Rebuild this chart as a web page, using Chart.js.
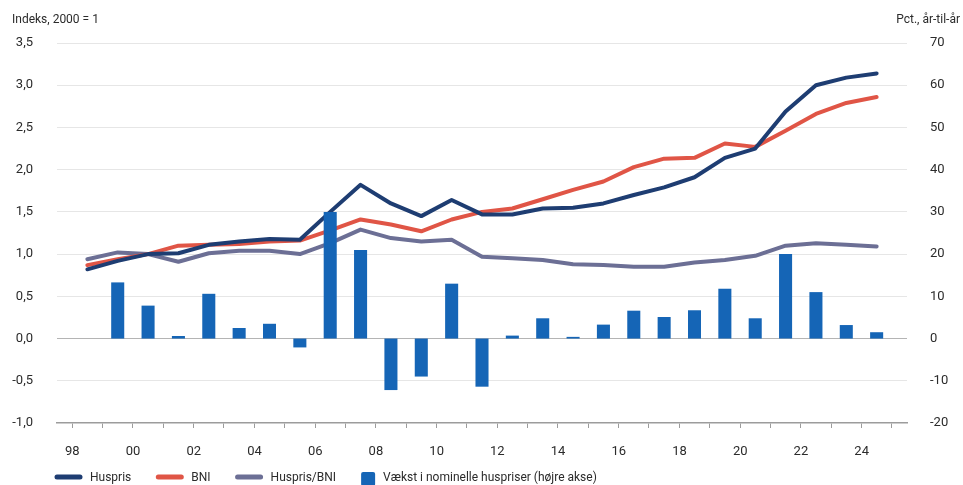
<!DOCTYPE html>
<html>
<head>
<meta charset="utf-8">
<script src="https://cdn.jsdelivr.net/npm/chart.js@4"></script>
<style>
  html, body { margin: 0; padding: 0; background: #fff; }
</style>
</head>
<body>
<canvas id="chart" width="963" height="485"></canvas>
<script>
// data (index 2000 = 1, growth in pct)
const years = [1998, 1999, 2000, 2001, 2002, 2003, 2004, 2005, 2006, 2007, 2008, 2009, 2010, 2011,
               2012, 2013, 2014, 2015, 2016, 2017, 2018, 2019, 2020, 2021, 2022, 2023, 2024];
const huspris = [0.82, 0.92, 1.00, 1.01, 1.11, 1.15, 1.18, 1.17, 1.50, 1.82, 1.60, 1.45, 1.64, 1.47,
                 1.47, 1.54, 1.55, 1.60, 1.70, 1.79, 1.91, 2.14, 2.25, 2.69, 3.00, 3.09, 3.14];
const bni = [0.87, 0.94, 1.00, 1.10, 1.11, 1.12, 1.15, 1.16, 1.28, 1.41, 1.35, 1.27, 1.41, 1.50,
             1.54, 1.65, 1.76, 1.86, 2.03, 2.13, 2.14, 2.31, 2.27, 2.46, 2.66, 2.79, 2.86];
const husprisBni = [0.94, 1.02, 1.00, 0.91, 1.01, 1.04, 1.04, 1.00, 1.13, 1.29, 1.19, 1.15, 1.17, 0.97,
                    0.95, 0.93, 0.88, 0.87, 0.85, 0.85, 0.90, 0.93, 0.98, 1.10, 1.13, 1.11, 1.09];
const vaekst = [null, 13.3, 7.8, 0.6, 10.6, 2.5, 3.5, -2.1, 30.0, 21.0, -12.2, -9.0, 13.0, -11.4,
                0.7, 4.8, 0.4, 3.3, 6.6, 5.1, 6.7, 11.8, 4.8, 20.0, 11.0, 3.2, 1.5];
const leftTicks = [-1, -0.5, 0, 0.5, 1, 1.5, 2, 2.5, 3, 3.5];
const rightTicks = [-20, -10, 0, 10, 20, 30, 40, 50, 60, 70];

// one empty slot each side so the year labels sit between the tick marks
const axisYears = [years[0] - 1, ...years, years[years.length - 1] + 1];
const pad = arr => [null, ...arr, null];

const FONT = 'Roboto, "Liberation Sans", sans-serif';
const TEXT = '#2b2b2b';

// axis titles at the top
const titlePlugin = {
    id: 'titles',
    afterDraw(chart) {
        const ctx = chart.ctx;
        ctx.save();
        ctx.font = '12px ' + FONT;
        ctx.fillStyle = TEXT;
        ctx.textBaseline = 'middle';
        ctx.textAlign = 'left';
        ctx.fillText('Indeks, 2000 = 1', 12, 20);
        ctx.textAlign = 'right';
        ctx.fillText('Pct., år-til-år', 960, 20);
        ctx.restore();
    }
};

// legend row at the bottom (lines as strokes, bars as square)
const legendPlugin = {
    id: 'bottomLegend',
    afterDraw(chart) {
        const ctx = chart.ctx;
        let x = 55;
        const y = 478;
        ctx.save();
        ctx.font = '12px ' + FONT;
        ctx.textBaseline = 'middle';
        ctx.textAlign = 'left';
        chart.data.datasets.forEach(ds => {
            if (ds.type === 'line') {
                ctx.strokeStyle = ds.borderColor;
                ctx.lineWidth = 5;
                ctx.lineCap = 'round';
                ctx.beginPath();
                ctx.moveTo(x + 2, y - 1);
                ctx.lineTo(x + 25, y - 1);
                ctx.stroke();
                x += 35;
            } else {
                ctx.fillStyle = ds.backgroundColor;
                ctx.beginPath();
                ctx.roundRect(x, y - 6, 14, 14, 2);
                ctx.fill();
                x += 22;
            }
            ctx.fillStyle = TEXT;
            ctx.fillText(ds.label, x, y);
            x += ctx.measureText(ds.label).width + 25;
        });
        ctx.restore();
    }
};

new Chart(document.getElementById('chart'), {
    type: 'bar',
    data: {
        labels: axisYears,
        datasets: [
            {
                type: 'line',
                label: 'Huspris',
                data: pad(huspris),
                borderColor: '#1e3d72',
                borderWidth: 4,
                pointRadius: 0,
                borderJoinStyle: 'round',
                borderCapStyle: 'round',
                yAxisID: 'y',
                order: 1
            },
            {
                type: 'line',
                label: 'BNI',
                data: pad(bni),
                borderColor: '#e05546',
                borderWidth: 4,
                pointRadius: 0,
                borderJoinStyle: 'round',
                borderCapStyle: 'round',
                yAxisID: 'y',
                order: 1
            },
            {
                type: 'line',
                label: 'Huspris/BNI',
                data: pad(husprisBni),
                borderColor: '#6c6f95',
                borderWidth: 4,
                pointRadius: 0,
                borderJoinStyle: 'round',
                borderCapStyle: 'round',
                yAxisID: 'y',
                order: 1
            },
            {
                type: 'bar',
                label: 'Vækst i nominelle huspriser (højre akse)',
                data: pad(vaekst),
                backgroundColor: '#1565b6',
                barPercentage: 0.43,
                categoryPercentage: 1,
                yAxisID: 'y2',
                order: 0
            }
        ]
    },
    options: {
        responsive: false,
        animation: false,
        layout: { padding: { top: 43, bottom: 22, left: 0, right: 0 } },
        plugins: {
            legend: { display: false },
            tooltip: { enabled: false }
        },
        scales: {
            x: {
                offset: false,
                grid: { drawOnChartArea: false, drawTicks: true, tickLength: 5, color: '#9c9c9c' },
                border: { color: '#9c9c9c', width: 1.5 },
                ticks: {
                    autoSkip: false,
                    maxRotation: 0,
                    labelOffset: -15,
                    padding: 16,
                    color: TEXT,
                    font: { family: FONT, size: 13 },
                    callback: (val, i) => {
                        const yr = axisYears[i];
                        return (yr % 2 === 0 && yr <= years[years.length - 1]) ? String(yr).slice(2) : '';
                    }
                },
                afterFit: s => { s.height = 40; }
            },
            y: {
                position: 'left',
                min: leftTicks[0],
                max: leftTicks[leftTicks.length - 1],
                afterBuildTicks: s => { s.ticks = leftTicks.map(v => ({ value: v })); },
                grid: {
                    drawTicks: false,
                    color: c => c.tick.value === 0 ? '#b4b4b4' : (c.tick.value === -1 ? 'rgba(0,0,0,0)' : '#e6e6e6')
                },
                border: { display: false },
                ticks: {
                    padding: 24,
                    color: TEXT,
                    font: { family: FONT, size: 13 },
                    callback: v => v.toFixed(1).replace('.', ',')
                },
                afterFit: s => { s.width = 57; }
            },
            y2: {
                position: 'right',
                min: rightTicks[0],
                max: rightTicks[rightTicks.length - 1],
                afterBuildTicks: s => { s.ticks = rightTicks.map(v => ({ value: v })); },
                grid: { display: false, drawTicks: false },
                border: { display: false },
                ticks: {
                    padding: 23,
                    color: TEXT,
                    font: { family: FONT, size: 13 },
                    callback: v => String(v)
                },
                afterFit: s => { s.width = 56; }
            }
        }
    },
    plugins: [titlePlugin, legendPlugin]
});
</script>
</body>
</html>
